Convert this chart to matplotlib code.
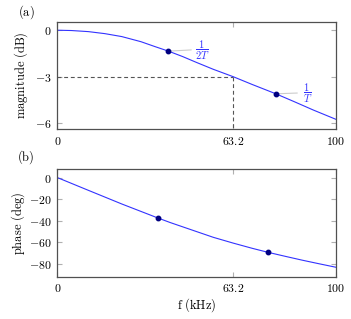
import numpy as np
import matplotlib
matplotlib.use("Agg")
import matplotlib.pyplot as plt

plt.rcParams['mathtext.fontset'] = 'cm'
plt.rcParams['font.family'] = 'DejaVu Serif'

# ------------------------------
# Data
f_mag = [0, 5, 11.1, 17, 23.1, 30, 35.1, 39.9, 45, 50, 56, 63.2, 70, 78.5, 85, 92, 100]
mag_db = [0, -0.02, -0.09, -0.22, -0.41, -0.74, -1.06, -1.35, -1.70, -2.08, -2.52, -3.0, -3.5, -4.1, -4.6, -5.15, -5.74]
f_mag_pts = [39.9, 78.5]
mag_pts = [-1.35, -4.1]
pt_labels = [r'$\dfrac{1}{2T}$', r'$\dfrac{1}{T}$']
lbl_pos = [(51.9, -1.27), (90.0, -4.05)]

f_ph = [0, 10, 23.1, 36.0, 40.5, 44, 50, 56, 63.2, 70, 75.5, 82, 88, 94, 100]
phase_deg = [0, -10.6, -24.4, -37.3, -41.6, -44.7, -50.0, -55.3, -60.7, -65.5, -69.1, -73.0, -76.5, -79.8, -83.0]
f_ph_pts = [36.0, 75.5]
ph_pts = [-37.3, -69.1]

f_3db = 63.2
xticks = [0, 63.2, 100]
xticklabels = ['0', '63.2', '100']

# ------------------------------
fig = plt.figure(figsize=(3.51, 3.19), dpi=100)
ax1 = fig.add_axes([0.1638, 0.5956, 0.7926, 0.3364])
ax2 = fig.add_axes([0.1638, 0.1326, 0.7926, 0.3376])

line_c = '#3333ff'
dot_c = '#000080'
fs = 8.5

for ax in (ax1, ax2):
    ax.set_xlim(0, 100)
    ax.set_xticks(xticks)
    ax.set_xticklabels([f'${t}$' for t in xticklabels], fontsize=fs)
    ax.tick_params(direction='in', length=3.5, width=0.8, color='#b0b0b0',
                   top=True, right=True, labelsize=fs, pad=4)
    for s in ax.spines.values():
        s.set_color('#505050')
        s.set_linewidth(0.9)

# (a) magnitude
ax1.set_ylim(-6.37, 0.55)
ax1.set_yticks([0, -3, -6])
ax1.set_yticklabels(['$0$', '$-3$', '$-6$'])
ax1.plot([0, f_3db], [-3, -3], color='#555555', lw=0.8, dashes=(3.5, 2.5))
ax1.plot([f_3db, f_3db], [-3, -6.37], color='#555555', lw=0.8, dashes=(3.5, 2.5))
ax1.plot(f_mag, mag_db, color=line_c, lw=0.8)
for x, y, lab, (lx, ly) in zip(f_mag_pts, mag_pts, pt_labels, lbl_pos):
    ax1.annotate('', xy=(x, y), xytext=(lx - 3.8, ly),
                 arrowprops=dict(arrowstyle='-', color='#cccccc', lw=0.8,
                                 shrinkA=0, shrinkB=0))
    ax1.text(lx, ly, lab, color=line_c, fontsize=7.5, ha='center', va='center')
ax1.plot(f_mag_pts, mag_pts, 'o', color=dot_c, ms=3.2, zorder=5)
ax1.set_ylabel(r'$\mathrm{magnitude\ (dB)}$', fontsize=fs + 0.5, labelpad=4)

# (b) phase
ax2.set_ylim(-91.8, 8)
ax2.set_yticks([0, -20, -40, -60, -80])
ax2.set_yticklabels(['$0$', '$-20$', '$-40$', '$-60$', '$-80$'])
ax2.plot(f_ph, phase_deg, color=line_c, lw=0.8)
ax2.plot(f_ph_pts, ph_pts, 'o', color=dot_c, ms=3.2, zorder=5)
ax2.set_ylabel(r'$\mathrm{phase\ (deg)}$', fontsize=fs + 0.5, labelpad=2)
ax2.set_xlabel(r'$\mathrm{f\ (kHz)}$', fontsize=fs + 0.5, labelpad=1)

fig.text(26 / 351, 1 - 12 / 319, r'$\mathrm{(a)}$', fontsize=fs + 0.5, ha='center', va='center')
fig.text(26 / 351, 1 - 157 / 319, r'$\mathrm{(b)}$', fontsize=fs + 0.5, ha='center', va='center')

fig.savefig('out.png', dpi=100)
